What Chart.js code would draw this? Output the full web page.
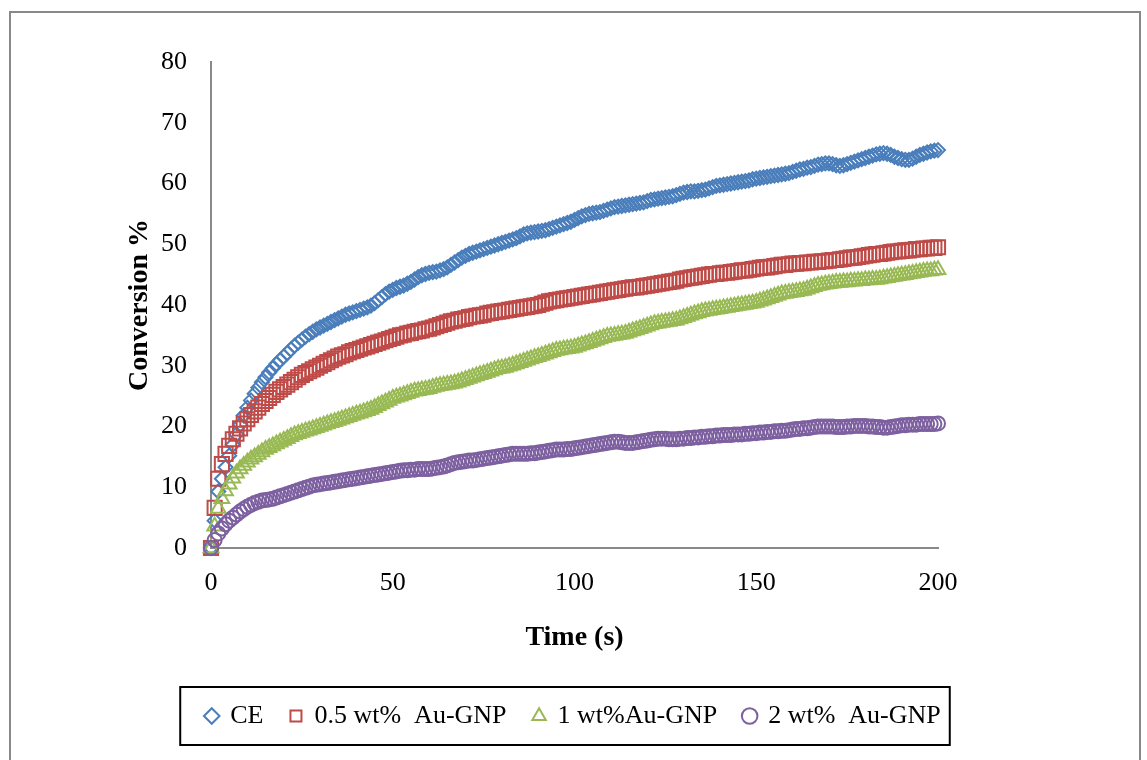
<!DOCTYPE html>
<html>
<head>
<meta charset="utf-8">
<script src="https://cdn.jsdelivr.net/npm/chart.js@4.4.1/dist/chart.umd.min.js"></script>
<style>
  html, body { margin: 0; padding: 0; background: #ffffff; }
  #wrap { position: relative; width: 1147px; height: 760px; overflow: hidden; }
  #frame { position: absolute; left: 9px; top: 11px; width: 1132px; height: 800px;
           border: 2px solid #898989; box-sizing: border-box; pointer-events: none; }
  canvas { position: absolute; left: 0; top: 0; }
</style>
</head>
<body>
<div id="wrap">
  <canvas id="c" width="1147" height="760"></canvas>
  <div id="frame"></div>
</div>
<script>
const TIME_S = [
  0,1,2,3,4,5,6,7,8,9,10,11,12,13,14,15,16,17,18,19,20,21,22,23,24,25,26,27,28,29,
  30,31,32,33,34,35,36,37,38,39,40,41,42,43,44,45,46,47,48,49,50,51,52,53,54,55,56,57,58,59,
  60,61,62,63,64,65,66,67,68,69,70,71,72,73,74,75,76,77,78,79,80,81,82,83,84,85,86,87,88,89,
  90,91,92,93,94,95,96,97,98,99,100,101,102,103,104,105,106,107,108,109,110,111,112,113,114,115,116,117,118,119,
  120,121,122,123,124,125,126,127,128,129,130,131,132,133,134,135,136,137,138,139,140,141,142,143,144,145,146,147,148,149,
  150,151,152,153,154,155,156,157,158,159,160,161,162,163,164,165,166,167,168,169,170,171,172,173,174,175,176,177,178,179,
  180,181,182,183,184,185,186,187,188,189,190,191,192,193,194,195,196,197,198,199,200
];

const CE = [
  0, 4.5, 9.3, 11.4, 13.3, 15.2, 17.0, 18.7, 20.3, 21.8,
  23.1, 24.3, 25.4, 26.4, 27.3, 28.1, 28.9, 29.6, 30.3, 30.9,
  31.5, 32.1, 32.7, 33.3, 33.8, 34.3, 34.8, 35.2, 35.6, 36.0,
  36.3, 36.6, 36.9, 37.2, 37.5, 37.8, 38.1, 38.4, 38.6, 38.8,
  39.0, 39.2, 39.4, 39.6, 39.9, 40.3, 40.8, 41.3, 41.8, 42.2,
  42.5, 42.8, 43.0, 43.2, 43.5, 43.8, 44.2, 44.6, 44.9, 45.1,
  45.3, 45.4, 45.5, 45.7, 45.9, 46.2, 46.6, 47.0, 47.4, 47.8,
  48.1, 48.4, 48.6, 48.8, 49.0, 49.2, 49.4, 49.6, 49.8, 50.0,
  50.2, 50.4, 50.6, 50.8, 51.0, 51.3, 51.6, 51.8, 51.9, 52.0,
  52.1, 52.2, 52.3, 52.5, 52.7, 52.9, 53.1, 53.3, 53.5, 53.7,
  54.0, 54.3, 54.6, 54.8, 55.0, 55.1, 55.2, 55.3, 55.5, 55.7,
  55.9, 56.1, 56.2, 56.3, 56.4, 56.5, 56.6, 56.7, 56.8, 56.9,
  57.1, 57.3, 57.4, 57.5, 57.6, 57.7, 57.8, 57.9, 58.1, 58.3,
  58.5, 58.6, 58.7, 58.7, 58.8, 58.9, 59.0, 59.2, 59.4, 59.6,
  59.7, 59.8, 59.9, 60.0, 60.1, 60.2, 60.3, 60.4, 60.5, 60.7,
  60.8, 60.9, 61.0, 61.1, 61.2, 61.3, 61.4, 61.5, 61.6, 61.7,
  61.9, 62.1, 62.3, 62.4, 62.6, 62.7, 62.9, 63.1, 63.2, 63.3,
  63.3, 63.2, 63.0, 62.9, 63.0, 63.2, 63.4, 63.6, 63.8, 64.0,
  64.2, 64.4, 64.6, 64.8, 64.9, 65.0, 64.9, 64.7, 64.4, 64.2,
  64.0, 63.9, 63.9, 64.1, 64.4, 64.7, 64.9, 65.1, 65.3, 65.4,
  65.5
];

const AU_05 = [
  0, 6.6, 11.4, 13.8, 15.5, 16.8, 17.9, 18.8, 19.7, 20.5,
  21.2, 21.9, 22.5, 23.1, 23.7, 24.2, 24.7, 25.2, 25.7, 26.1,
  26.5, 26.9, 27.3, 27.7, 28.1, 28.5, 28.8, 29.1, 29.4, 29.7,
  30.0, 30.3, 30.6, 30.9, 31.2, 31.5, 31.7, 31.9, 32.2, 32.4,
  32.6, 32.8, 33.0, 33.2, 33.4, 33.6, 33.8, 34.0, 34.2, 34.4,
  34.6, 34.8, 35.0, 35.1, 35.3, 35.4, 35.6, 35.7, 35.8, 36.0,
  36.1, 36.3, 36.5, 36.7, 36.9, 37.1, 37.3, 37.4, 37.6, 37.7,
  37.8, 38.0, 38.1, 38.2, 38.3, 38.4, 38.6, 38.7, 38.8, 38.9,
  39.0, 39.1, 39.2, 39.3, 39.4, 39.5, 39.6, 39.7, 39.8, 39.9,
  40.0, 40.2, 40.4, 40.6, 40.7, 40.8, 40.9, 41.0, 41.1, 41.2,
  41.3, 41.4, 41.5, 41.6, 41.7, 41.8, 41.9, 42.0, 42.1, 42.2,
  42.3, 42.4, 42.5, 42.6, 42.7, 42.8, 42.9, 42.9, 43.0, 43.1,
  43.2, 43.3, 43.4, 43.5, 43.6, 43.7, 43.8, 43.9, 44.0, 44.2,
  44.3, 44.4, 44.5, 44.6, 44.7, 44.8, 44.9, 45.0, 45.1, 45.1,
  45.2, 45.3, 45.3, 45.4, 45.5, 45.6, 45.7, 45.7, 45.8, 45.9,
  46.0, 46.1, 46.2, 46.2, 46.3, 46.4, 46.5, 46.6, 46.6, 46.7,
  46.8, 46.8, 46.9, 46.9, 47.0, 47.0, 47.1, 47.1, 47.2, 47.2,
  47.3, 47.4, 47.4, 47.5, 47.6, 47.7, 47.8, 47.8, 47.9, 48.0,
  48.1, 48.2, 48.3, 48.4, 48.4, 48.5, 48.6, 48.7, 48.8, 48.8,
  48.9, 49.0, 49.0, 49.1, 49.2, 49.2, 49.3, 49.3, 49.4, 49.4,
  49.5
];

const AU_1 = [
  0, 3.6, 6.5, 8.1, 9.4, 10.5, 11.5, 12.3, 13.0, 13.6,
  14.1, 14.6, 15.0, 15.4, 15.8, 16.2, 16.5, 16.8, 17.1, 17.4,
  17.7, 18.0, 18.3, 18.6, 18.8, 19.0, 19.2, 19.4, 19.6, 19.8,
  20.0, 20.2, 20.4, 20.6, 20.8, 21.0, 21.2, 21.4, 21.6, 21.8,
  22.0, 22.2, 22.4, 22.6, 22.8, 23.1, 23.4, 23.7, 24.0, 24.3,
  24.6, 24.8, 25.0, 25.2, 25.4, 25.6, 25.8, 25.9, 26.0, 26.1,
  26.2, 26.4, 26.6, 26.7, 26.8, 26.9, 27.0, 27.1, 27.3, 27.5,
  27.7, 27.9, 28.1, 28.3, 28.5, 28.7, 28.9, 29.1, 29.3, 29.5,
  29.6, 29.7, 29.9, 30.1, 30.3, 30.5, 30.7, 30.9, 31.1, 31.3,
  31.5, 31.7, 31.9, 32.1, 32.3, 32.5, 32.6, 32.7, 32.8, 32.9,
  33.0, 33.2, 33.4, 33.6, 33.8, 34.0, 34.2, 34.4, 34.6, 34.8,
  34.9, 35.0, 35.1, 35.2, 35.3, 35.5, 35.7, 35.9, 36.1, 36.3,
  36.5, 36.7, 36.9, 37.0, 37.1, 37.2, 37.3, 37.4, 37.5, 37.7,
  37.9, 38.1, 38.3, 38.5, 38.7, 38.9, 39.0, 39.1, 39.2, 39.3,
  39.4, 39.5, 39.6, 39.7, 39.8, 39.9, 40.0, 40.1, 40.2, 40.3,
  40.4, 40.6, 40.8, 41.0, 41.2, 41.4, 41.6, 41.8, 41.9, 42.0,
  42.1, 42.2, 42.3, 42.4, 42.6, 42.8, 43.0, 43.2, 43.3, 43.4,
  43.5, 43.6, 43.7, 43.7, 43.8, 43.8, 43.9, 43.9, 44.0, 44.0,
  44.1, 44.1, 44.2, 44.2, 44.3, 44.4, 44.5, 44.6, 44.7, 44.8,
  44.9, 45.0, 45.1, 45.2, 45.3, 45.4, 45.5, 45.6, 45.6, 45.7,
  45.8
];

const AU_2 = [
  0, 1.3, 2.4, 3.2, 3.9, 4.5, 5.0, 5.5, 6.0, 6.4,
  6.8, 7.1, 7.4, 7.6, 7.8, 7.9, 8.0, 8.1, 8.3, 8.5,
  8.7, 8.9, 9.1, 9.3, 9.5, 9.7, 9.9, 10.1, 10.3, 10.4,
  10.5, 10.6, 10.7, 10.8, 10.9, 11.0, 11.1, 11.2, 11.3, 11.4,
  11.5, 11.6, 11.7, 11.8, 11.9, 12.0, 12.1, 12.2, 12.3, 12.4,
  12.5, 12.6, 12.7, 12.8, 12.8, 12.9, 12.9, 13.0, 13.0, 13.0,
  13.0, 13.1, 13.2, 13.3, 13.4, 13.6, 13.8, 14.0, 14.1, 14.2,
  14.3, 14.4, 14.4, 14.5, 14.6, 14.7, 14.8, 14.9, 15.0, 15.1,
  15.2, 15.3, 15.4, 15.5, 15.5, 15.5, 15.5, 15.5, 15.6, 15.6,
  15.7, 15.8, 15.9, 16.0, 16.1, 16.2, 16.2, 16.2, 16.3, 16.3,
  16.4, 16.5, 16.6, 16.7, 16.8, 16.9, 17.0, 17.1, 17.2, 17.3,
  17.4, 17.5, 17.5, 17.4, 17.3, 17.3, 17.3, 17.4, 17.5, 17.6,
  17.7, 17.8, 17.9, 18.0, 18.0, 18.0, 17.9, 17.9, 17.9, 18.0,
  18.0, 18.1, 18.1, 18.2, 18.2, 18.3, 18.3, 18.4, 18.4, 18.5,
  18.5, 18.6, 18.6, 18.6, 18.7, 18.7, 18.7, 18.8, 18.8, 18.9,
  18.9, 19.0, 19.0, 19.1, 19.1, 19.2, 19.2, 19.3, 19.3, 19.4,
  19.5, 19.6, 19.6, 19.7, 19.7, 19.8, 19.9, 20.0, 20.0, 20.0,
  20.0, 20.0, 19.9, 19.9, 19.9, 20.0, 20.0, 20.1, 20.1, 20.1,
  20.1, 20.0, 20.0, 19.9, 19.9, 19.8, 19.8, 19.9, 20.0, 20.1,
  20.2, 20.2, 20.3, 20.3, 20.3, 20.4, 20.4, 20.4, 20.4, 20.4,
  20.5
];

const SERIES_NAMES = ['CE', '0.5 wt%  Au-GNP', '1 wt%Au-GNP', '2 wt%  Au-GNP'];
const X_TITLE = 'Time (s)';
const Y_TITLE = 'Conversion %';
const X_TICKS = { min: 0, max: 200, step: 50 };
const Y_TICKS = { min: 0, max: 80, step: 10 };

const SERIF = "'Liberation Serif', 'Times New Roman', serif";
const toPts = (ys) => ys.map((y, i) => ({ x: TIME_S[i], y }));

const legendFrame = {
  id: 'legendFrame',
  afterDraw(chart) {
    const lg = chart.legend;
    if (!lg || !lg.legendHitBoxes || !lg.legendHitBoxes.length) return;
    const hb = lg.legendHitBoxes;
    const first = hb[0], last = hb[hb.length - 1];
    const ctx = chart.ctx;
    const left = first.left - 26;
    const right = last.left + last.width + 9;
    const top = first.top - 16;
    const bottom = first.top + 42;
    ctx.save();
    ctx.strokeStyle = '#000000';
    ctx.lineWidth = 2;
    ctx.strokeRect(left, top, right - left, bottom - top);
    ctx.restore();
  }
};

const common = { showLine: false, borderWidth: 2, backgroundColor: 'rgba(0,0,0,0)', clip: false, pointHoverRadius: 0 };

new Chart(document.getElementById('c'), {
  type: 'scatter',
  data: {
    datasets: [
      Object.assign({}, common, { label: SERIES_NAMES[0], data: toPts(CE), borderColor: '#4A7EBB', pointStyle: 'rectRot', pointRadius: 7, order: 4 }),
      Object.assign({}, common, { label: SERIES_NAMES[1], data: toPts(AU_05), borderColor: '#BE4B48', pointStyle: 'rect', pointRadius: 10, order: 3 }),
      Object.assign({}, common, { label: SERIES_NAMES[2], data: toPts(AU_1), borderColor: '#98B954', pointStyle: 'triangle', pointRadius: 8.5, order: 2 }),
      Object.assign({}, common, { label: SERIES_NAMES[3], data: toPts(AU_2), borderColor: '#7D60A0', pointStyle: 'circle', pointRadius: 7, order: 1 })
    ]
  },
  options: {
    responsive: false,
    animation: false,
    devicePixelRatio: 1,
    layout: { padding: { left: 0, right: 0, top: 62, bottom: 21 } },
    plugins: {
      tooltip: { enabled: false },
      legend: {
        position: 'bottom',
        labels: {
          usePointStyle: true,
          boxWidth: 11,
          boxHeight: 11,
          padding: 27,
          color: '#000000',
          font: { family: SERIF, size: 26 },
          sort: (a, b) => a.datasetIndex - b.datasetIndex
        }
      }
    },
    scales: {
      x: {
        type: 'linear',
        position: 'bottom',
        min: X_TICKS.min, max: X_TICKS.max,
        ticks: { stepSize: X_TICKS.step, padding: 20, color: '#000000', font: { family: SERIF, size: 26 }, maxRotation: 0 },
        grid: { display: false, drawTicks: false },
        border: { display: true, color: '#898989', width: 2 },
        title: { display: true, text: X_TITLE, color: '#000000', font: { family: SERIF, size: 28, weight: 'bold' }, padding: { top: 0, bottom: 21 } },
        afterFit: (s) => { s.height = 128; }
      },
      y: {
        type: 'linear',
        position: 'left',
        min: Y_TICKS.min, max: Y_TICKS.max,
        ticks: { stepSize: Y_TICKS.step, padding: 24, color: '#000000', font: { family: SERIF, size: 26 } },
        grid: { display: false, drawTicks: false },
        border: { display: true, color: '#898989', width: 2 },
        title: { display: true, text: Y_TITLE, color: '#000000', font: { family: SERIF, size: 28, weight: 'bold' }, padding: { top: 123, bottom: 0 } },
        afterFit: (s) => { s.width = 211; }
      },
      yRightSpace: {
        type: 'linear',
        position: 'right',
        display: true,
        ticks: { display: false },
        grid: { display: false, drawTicks: false },
        border: { display: false },
        afterFit: (s) => { s.width = 209; }
      }
    }
  },
  plugins: [legendFrame]
});
</script>
</body>
</html>
